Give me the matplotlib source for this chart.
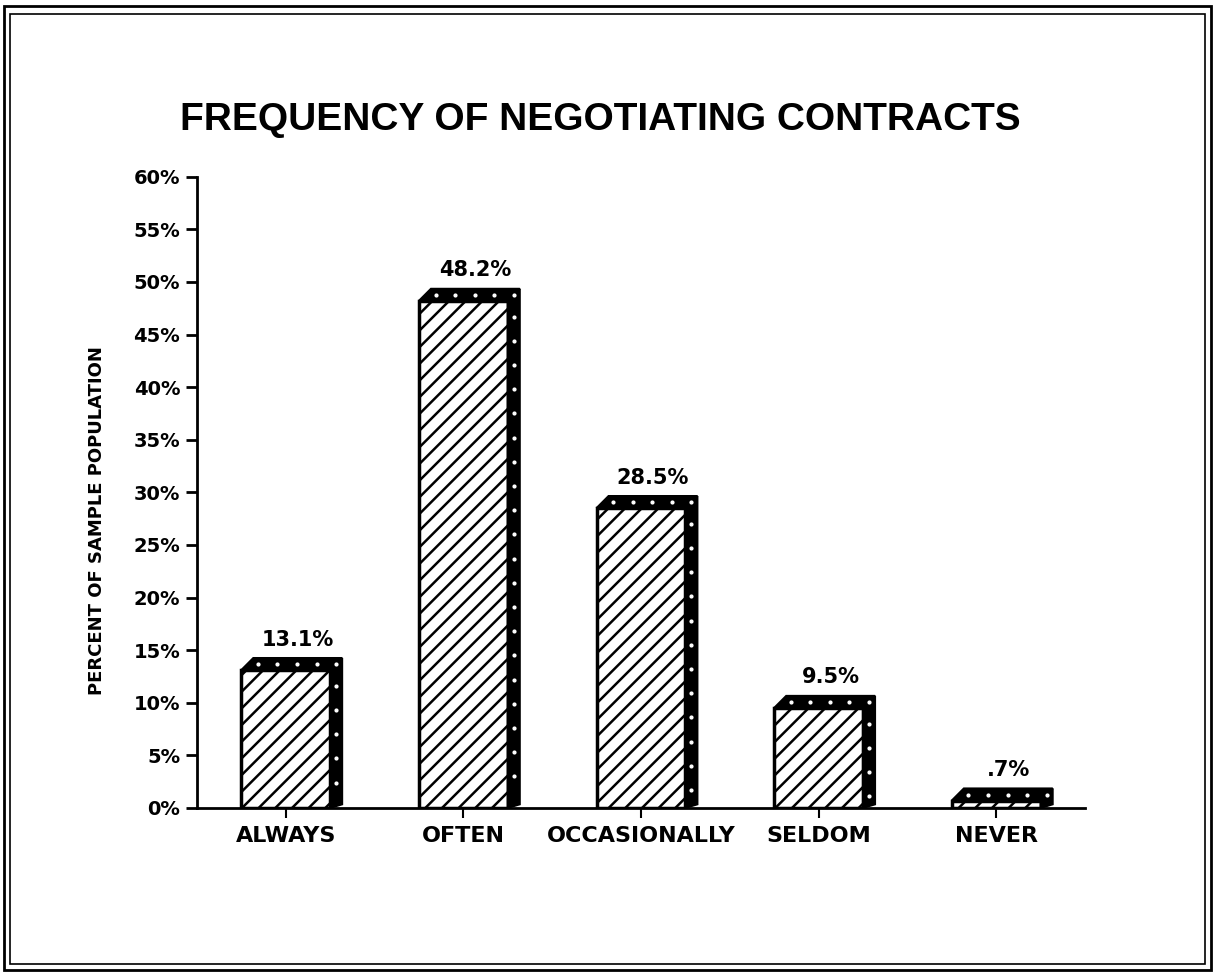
import matplotlib
matplotlib.use("Agg")
import matplotlib.pyplot as plt
from matplotlib.patches import Polygon, Rectangle
import numpy as np

categories = ["ALWAYS", "OFTEN", "OCCASIONALLY", "SELDOM", "NEVER"]
values = [13.1, 48.2, 28.5, 9.5, 0.7]
value_labels = ["13.1%", "48.2%", "28.5%", "9.5%", ".7%"]
yticks = [0, 5, 10, 15, 20, 25, 30, 35, 40, 45, 50, 55, 60]

plt.rcParams['font.family'] = ['DejaVu Sans']
plt.rcParams['font.weight'] = 'bold'
plt.rcParams['hatch.linewidth'] = 1.8

fig = plt.figure(figsize=(12.15, 9.74), dpi=100)
ax = fig.add_axes([0.162, 0.1705, 0.731, 0.648])

x = np.arange(len(categories))
w = 0.5
dx = 0.068   # depth of the 3d look, data units
dy = 1.15

ax.bar(x, values, width=w, color="white", edgecolor="black", linewidth=2.5,
       hatch="//", zorder=3)

for xi, v in zip(x, values):
    left = xi - w / 2
    right = xi + w / 2
    # top face
    top = Polygon([(left, v), (left + dx, v + dy), (right + dx, v + dy), (right, v)],
                  closed=True, facecolor="black", edgecolor="black", lw=1.5, zorder=4)
    ax.add_patch(top)
    # side face
    side = Polygon([(right, 0), (right, v), (right + dx, v + dy), (right + dx, dy * 0.3)],
                   closed=True, facecolor="black", edgecolor="black", lw=1.5, zorder=4)
    ax.add_patch(side)
    # white dots on the dark faces
    tx = np.arange(left + 0.06, right + 0.02, 0.11)
    ax.scatter(tx + dx / 2, np.full(len(tx), v + dy / 2), s=4, color="white", zorder=5)
    if v > 3:
        sy = np.arange(v - 1.5, 1, -2.3)
        ax.scatter(np.full(len(sy), right + dx / 2), sy, s=4, color="white", zorder=5)

for xi, v, lab in zip(x, values, value_labels):
    ax.text(xi + dx, v + dy + 0.8, lab, ha="center", va="bottom",
            fontsize=15, fontweight="bold")

ax.set_xlim(-0.5, 4.5)
ax.set_ylim(0, 60)
ax.set_yticks(yticks)
ax.set_yticklabels([f"{t}%" for t in yticks])
ax.set_xticks(x)
ax.set_xticklabels(categories)
for s in ["top", "right"]:
    ax.spines[s].set_visible(False)
ax.spines["left"].set_linewidth(2)
ax.spines["bottom"].set_linewidth(2)
ax.tick_params(axis="y", length=8, width=2, labelsize=14, pad=4)
ax.tick_params(axis="x", length=7, width=1.5, labelsize=16, pad=6)
for lab in ax.get_xticklabels() + ax.get_yticklabels():
    lab.set_fontweight("bold")

fig.text(0.494, 0.877, "FREQUENCY OF NEGOTIATING CONTRACTS", ha="center", va="center",
         fontsize=28, fontweight="bold", family=["Liberation Sans", "DejaVu Sans"])
fig.text(0.08, 0.466, "PERCENT OF SAMPLE POPULATION", rotation=90, ha="center",
         va="center", fontsize=13, fontweight="bold")

# double frame around the page
fig.patches.append(Rectangle((0.003, 0.004), 0.994, 0.99, transform=fig.transFigure,
                             fill=False, edgecolor="black", lw=2))
fig.patches.append(Rectangle((0.008, 0.01), 0.984, 0.976, transform=fig.transFigure,
                             fill=False, edgecolor="black", lw=1.2))

fig.savefig("out.png", dpi=100)
